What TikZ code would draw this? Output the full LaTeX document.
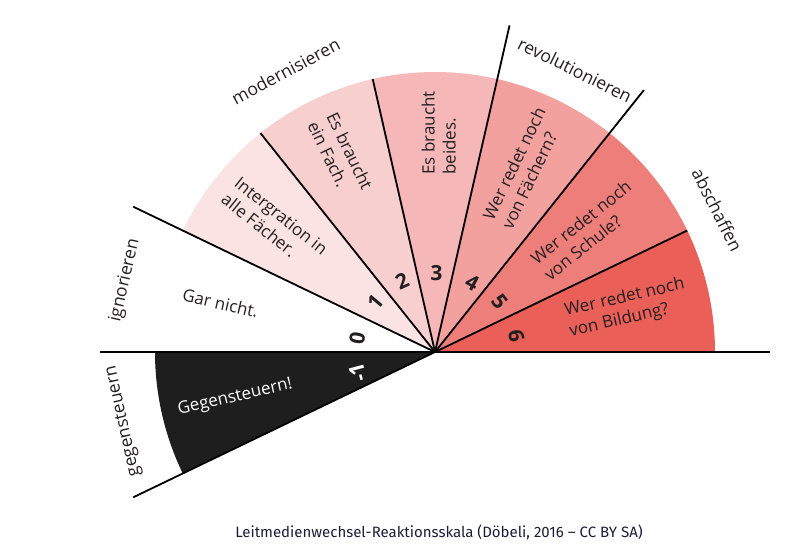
\documentclass[tikz,border=0pt]{standalone}
\usepackage{fontspec}
\setmainfont{Open Sans}
\newfontfamily\capfont{Fira Sans}
\definecolor{wA}{HTML}{FCE3E3}
\definecolor{wB}{HTML}{F8CFCF}
\definecolor{wC}{HTML}{F5B7B7}
\definecolor{wD}{HTML}{F2A19F}
\definecolor{wE}{HTML}{EE7E79}
\definecolor{wF}{HTML}{EA5F57}
\definecolor{wBlack}{HTML}{1E1E1E}
\definecolor{ink}{HTML}{231F20}
\definecolor{capink}{HTML}{1C1C3A}
\tikzset{
  wedgetext/.style={font=\fontsize{17}{21}\selectfont, text=ink, align=left, inner sep=0pt},
  cattext/.style={font=\fontsize{17.5}{21}\selectfont, text=ink, inner sep=0pt},
  numtext/.style={font=\fontsize{21}{24}\selectfont\bfseries, text=ink, inner sep=0pt},
  divider/.style={draw=black, line width=1.8pt},
}
\begin{document}
\begin{tikzpicture}[x=1pt,y=1pt]
\useasboundingbox (-435,-206) rectangle (351,352);
\def\R{280}
\def\L{335}
\pgfmathsetmacro{\a}{180/7}
\coordinate (C) at (0,0);
% wedges
\foreach \n/\col in {1/wA,2/wB,3/wC,4/wD,5/wE,6/wF}{
  \pgfmathsetmacro{\s}{180-(\n+1)*\a}
  \pgfmathsetmacro{\e}{180-\n*\a}
  \fill[\col] (C) -- (\s:\R) arc[start angle=\s, end angle=\e, radius=\R] -- cycle;
}
\fill[wBlack] (C) -- (180:\R) arc[start angle=180, end angle=180+\a, radius=\R] -- cycle;
% divider end points
\coordinate (hl) at (180:\L);
\coordinate (hr) at (0:\L);
\coordinate (dM) at (180+\a:\L);
\coordinate (d01) at (180-\a:\L);
\coordinate (d12) at (180-2*\a:\R);
\coordinate (d23) at (180-3*\a:\R);
\coordinate (d34) at (180-4*\a:\L);
\coordinate (d45) at (180-5*\a:\L);
\coordinate (d56) at (180-6*\a:\R);
\draw[divider] (hl) -- (hr);
\foreach \p in {dM,d01,d12,d23,d34,d45,d56}{
  \draw[divider] (C) -- (\p);
}
% wedge texts
\node[wedgetext, rotate=-12.86] (t0) at (167.14:220) {Gar nicht.};
\node[wedgetext, rotate=-38.57] (t1) at (141.43:205) {Intergration in\\alle Fächer.};
\node[wedgetext, rotate=-64.29] (t2) at (115.71:218) {Es braucht\\ein Fach.};
\node[wedgetext, rotate=90] (t3) at (89:219) {Es braucht\\beides.};
\node[wedgetext, rotate=64.29] (t4) at (64.29:204) {Wer redet noch\\von Fächern?};
\node[wedgetext, rotate=38.57] (t5) at (38.57:195) {Wer redet noch\\von Schule?};
\node[wedgetext, rotate=12.86] (t6) at (12.86:197) {Wer redet noch\\von Bildung?};
\node[wedgetext, text=white, rotate=12.86] (tM) at (192.86:205) {Gegensteuern!};
% numbers
\node[numtext, rotate=80] (n0) at (170:79) {0};
\node[numtext, rotate=50] (n1) at (140:77) {1};
\node[numtext, rotate=25] (n2) at (115:78) {2};
\node[numtext, rotate=-1] (n3) at (89:79) {3};
\node[numtext, rotate=-28] (n4) at (62:79) {4};
\node[numtext, rotate=-52] (n5) at (38:82) {5};
\node[numtext, rotate=-79] (n6) at (11:83) {6};
\node[numtext, text=white, rotate=105] (nM) at (195:80) {-1};
% category labels
\node[cattext, rotate=77] (cI) at (167:318) {ignorieren};
\node[cattext, rotate=102.5] (cG) at (192.5:319) {gegensteuern};
\node[cattext, rotate=28] (cMo) at (118:318) {modernisieren};
\node[cattext, rotate=-26.4] (cR) at (63.6:315) {revolutionieren};
\node[cattext, rotate=-63.3] (cA) at (26.7:316) {abschaffen};
% caption
\node[font=\capfont\fontsize{15}{18}\selectfont, text=capink, inner sep=0pt] (cap) at (4,-180) {Leitmedienwechsel-Reaktionsskala (Döbeli, 2016 – CC BY SA)};
\end{tikzpicture}
\end{document}
